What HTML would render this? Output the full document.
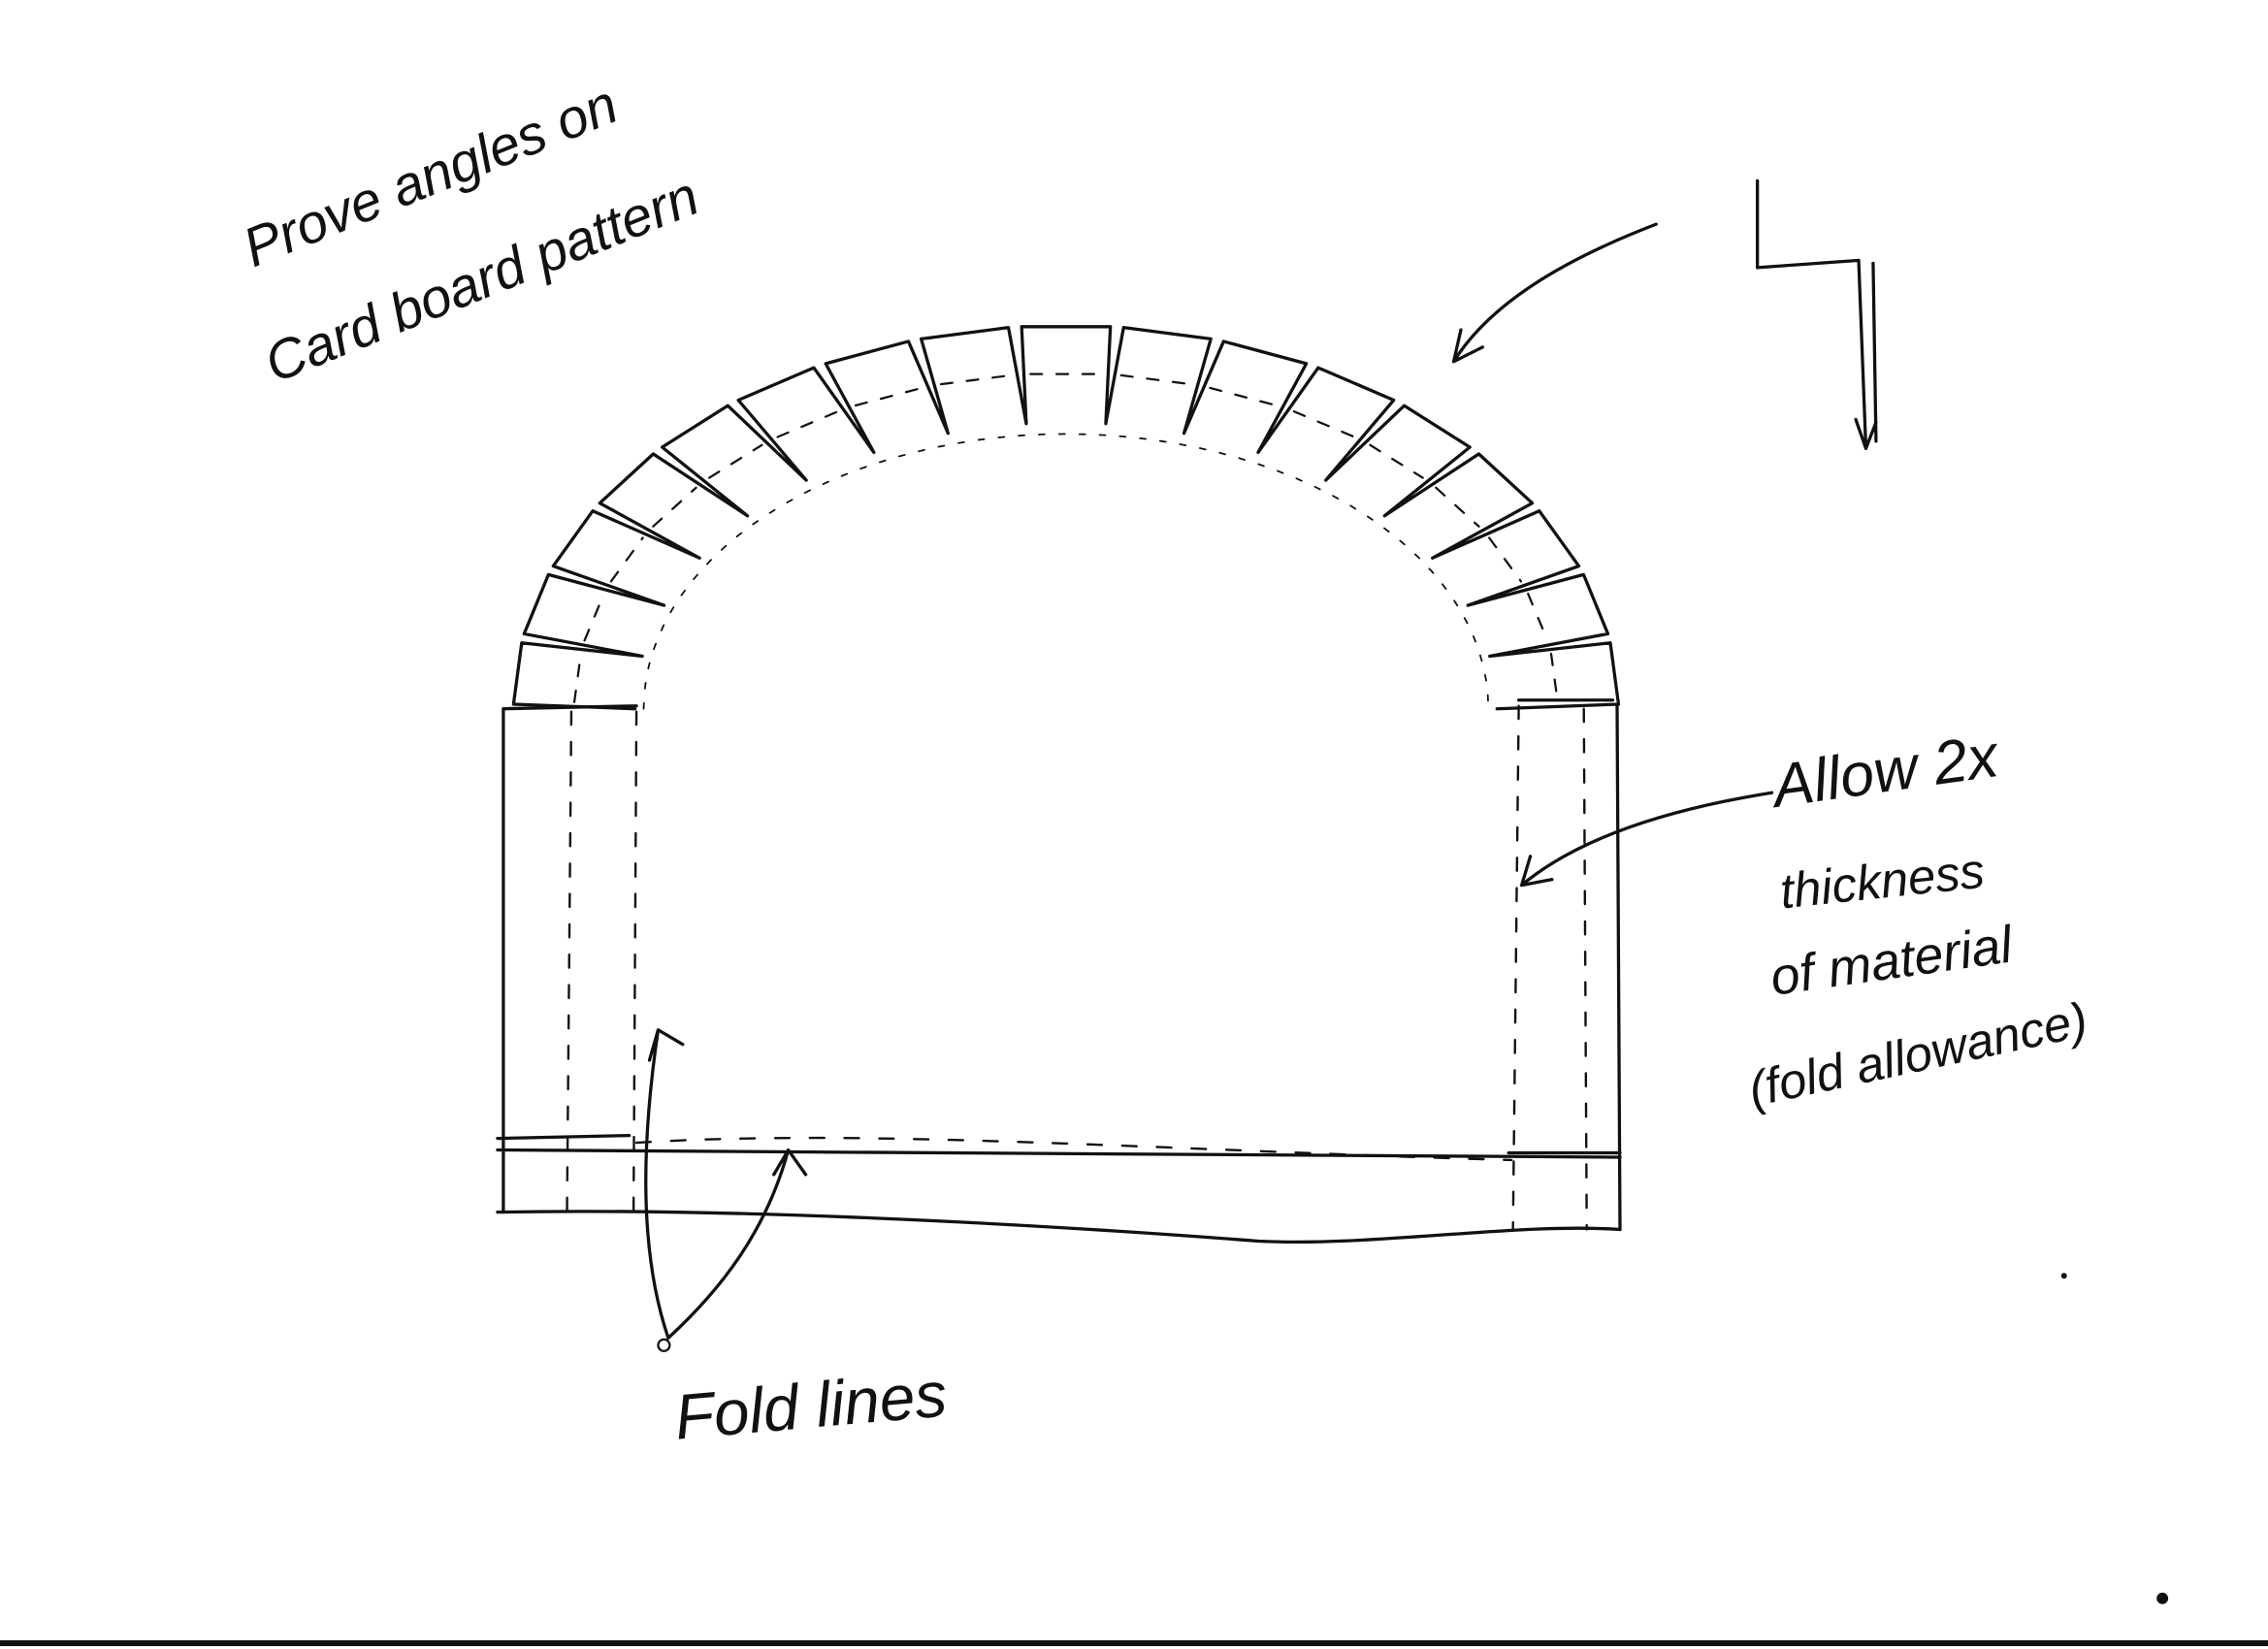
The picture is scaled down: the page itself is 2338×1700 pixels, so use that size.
<!DOCTYPE html>
<html><head><meta charset="utf-8"><style>
html,body{margin:0;padding:0;background:#fff;width:2338px;height:1700px;overflow:hidden}
svg{display:block}
text{font-family:"Liberation Sans",sans-serif;font-style:italic;fill:#111}
</style></head><body>
<svg id="s" width="2338" height="1700" viewBox="0 0 1568 1140" preserveAspectRatio="none" xmlns="http://www.w3.org/2000/svg">
<g fill="none" stroke="#111" stroke-width="2.2" stroke-linecap="round" stroke-linejoin="round">
<path d="M348 490 L440 488 M348 490 L348 838 M1120 850 M344 787 L435 785 M344 795 L1120 800"/>
<path d="M395 492 L392 838 M440 492 L438 838" stroke-dasharray="9 12" stroke-width="1.6"/>
<path d="M1050 484 L1115 484 M1118 488 L1120 850 M1043 797 L1120 797"/>
<path d="M1050 488 L1046 850 M1095 490 L1097 850" stroke-dasharray="9 12" stroke-width="1.6"/>
<path d="M440 790 C600 780 800 795 1045 802" stroke-dasharray="10 14" stroke-width="1.6"/>
<path d="M344 838 C500 835 700 845 870 858 C950 862 1050 845 1120 850"/>
<g id="arch"></g>
<path d="M1145 155 C1080 180 1030 210 1005 250 M1005 250 L1010 228 M1005 250 L1025 240"/>
<path d="M1215 125 L1215 185 L1285 180 L1290 310 M1290 310 L1283 290 M1290 310 L1297 292 M1295 182 L1297 305"/>
<path d="M1225 548 C1150 560 1090 580 1052 612 M1052 612 L1058 592 M1052 612 L1073 608"/>
<path d="M462 925 C440 860 445 780 455 712 M455 712 L449 733 M455 712 L472 722"/>
<path d="M462 925 C500 890 530 850 545 795 M545 795 L535 812 M545 795 L557 812"/>
<circle cx="459" cy="930" r="4" stroke-width="1.5"/>
</g>
<text x="0" y="0" font-size="38" transform="translate(175 185) rotate(-22)">Prove angles on</text>
<text x="0" y="0" font-size="38" transform="translate(190 265) rotate(-22)">Card board pattern</text>
<text x="1228" y="558" font-size="42" transform="rotate(-8 1228 558)">Allow 2x</text>
<text x="1232" y="628" font-size="34" transform="rotate(-6 1232 628)">thickness</text>
<text x="1226" y="688" font-size="36" transform="rotate(-8 1226 688)">of material</text>
<text x="1212" y="765" font-size="34" transform="rotate(-12 1212 765)">(fold allowance)</text>
<text x="468" y="995" font-size="44" transform="rotate(-5 468 995)">Fold lines</text>
<rect x="0" y="1134" width="1568" height="4" fill="#111"/>
<circle cx="1495" cy="1105" r="4" fill="#111"/>
<circle cx="1427" cy="882" r="2" fill="#111"/>
</svg>
<script>
(function(){
var g=document.getElementById('arch'),cx=737,cy=490,N=17;
var ro=[382,265],ri=[298,198],rm=[340,232];
function P(r,a){return [cx-r[0]*Math.cos(a),cy-r[1]*Math.sin(a)];}
var d='',dm='';
for(var i=0;i<N;i++){
 var a0=Math.PI*i/N,a1=Math.PI*(i+1)/N,gp=0.012;
 var v0=P(ri,a0),o0=P(ro,a0+gp),o1=P(ro,a1-gp),v1=P(ri,a1);
 d+='M'+v0+' L'+o0+' L'+o1+' L'+v1+' ';
 var m0=P(rm,a0+0.02),m1=P(rm,a1-0.02);dm+='M'+m0+' L'+m1+' ';
}
var ns='http://www.w3.org/2000/svg';
function add(dd,extra){var p=document.createElementNS(ns,'path');p.setAttribute('d',dd);for(var k in extra)p.setAttribute(k,extra[k]);g.appendChild(p);}
add(d,{});
add(dm,{'stroke-dasharray':'8 10','stroke-width':'1.5'});
var s='';for(var j=0;j<=60;j++){var a=Math.PI*j/60;var p=P([292,190],a);s+=(j?'L':'M')+p+' ';}
add(s,{'stroke-dasharray':'4 10','stroke-width':'1.2'});
})();
</script>
</body></html>
